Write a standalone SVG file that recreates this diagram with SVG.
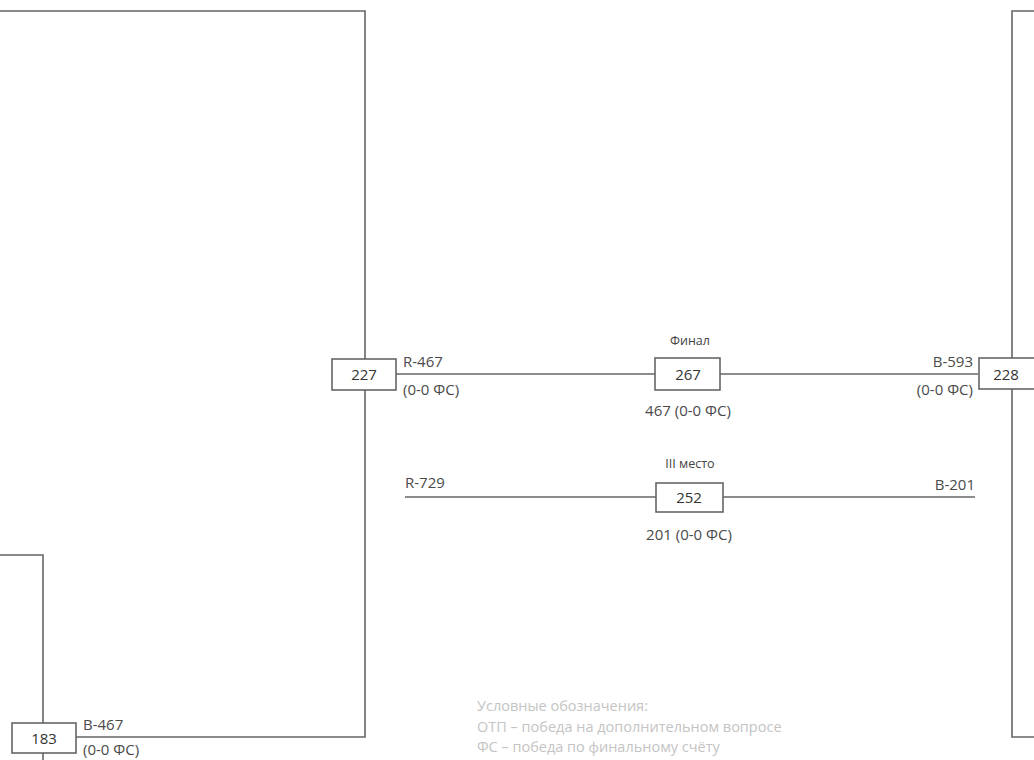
<svg xmlns="http://www.w3.org/2000/svg" width="1034" height="760" viewBox="0 0 1034 760">
<style>
.ln{fill:none;stroke:#666;stroke-width:1.6}
.bx{fill:#fff;stroke:#666;stroke-width:1.6}
.t{font-family:"Open Sans","DejaVu Sans",sans-serif;font-size:15px;fill:#4a4a4a}
.num{font-family:"Open Sans","DejaVu Sans",sans-serif;font-size:15px;fill:#333;text-anchor:middle}
.hd{font-family:"Open Sans","DejaVu Sans",sans-serif;font-size:12.5px;fill:#444;text-anchor:middle}
.lg{font-family:"Open Sans","DejaVu Sans",sans-serif;font-size:14.5px;fill:#c4c4c4}
</style>
<rect width="1034" height="760" fill="#fff"/>
<g id="connectors">
<polyline class="ln" points="0,11 365,11 365,737 76,737"/>
<polyline class="ln" points="0,555 43,555 43,760"/>
<polyline class="ln" points="1034,11 1012,11 1012,737 1034,737"/>
<line class="ln" x1="396" y1="374" x2="978" y2="374"/>
<line class="ln" x1="405" y1="497" x2="975" y2="497"/>
</g>
<g id="n227">
<rect class="bx" x="332" y="359" width="64" height="31"/>
<text class="num" x="364" y="380">227</text>
<text class="t" x="403" y="367">R-467</text>
<text class="t" x="403" y="395">(0-0 ФС)</text>
</g>
<g id="n267">
<text class="hd" x="690" y="345">Финал</text>
<rect class="bx" x="655" y="358" width="65" height="32"/>
<text class="num" x="688" y="380">267</text>
<text class="t" x="688" y="416" text-anchor="middle">467 (0-0 ФС)</text>
</g>
<g id="n228">
<rect class="bx" x="979" y="358" width="66" height="31"/>
<text class="num" x="1006" y="380">228</text>
<text class="t" x="973" y="367" text-anchor="end">B-593</text>
<text class="t" x="973" y="395" text-anchor="end">(0-0 ФС)</text>
</g>
<g id="n252">
<text class="hd" x="690" y="468">III место</text>
<rect class="bx" x="656" y="483" width="67" height="29"/>
<text class="num" x="689" y="503">252</text>
<text class="t" x="405" y="488">R-729</text>
<text class="t" x="975" y="490" text-anchor="end">B-201</text>
<text class="t" x="689" y="540" text-anchor="middle">201 (0-0 ФС)</text>
</g>
<g id="n183">
<rect class="bx" x="12" y="723" width="64" height="30"/>
<text class="num" x="44" y="744">183</text>
<text class="t" x="83" y="730">B-467</text>
<text class="t" x="83" y="755">(0-0 ФС)</text>
</g>
<g id="legend">
<text class="lg" x="477" y="711">Условные обозначения:</text>
<text class="lg" x="477" y="732">ОТП – победа на дополнительном вопросе</text>
<text class="lg" x="477" y="752">ФС – победа по финальному счёту</text>
</g>
</svg>
